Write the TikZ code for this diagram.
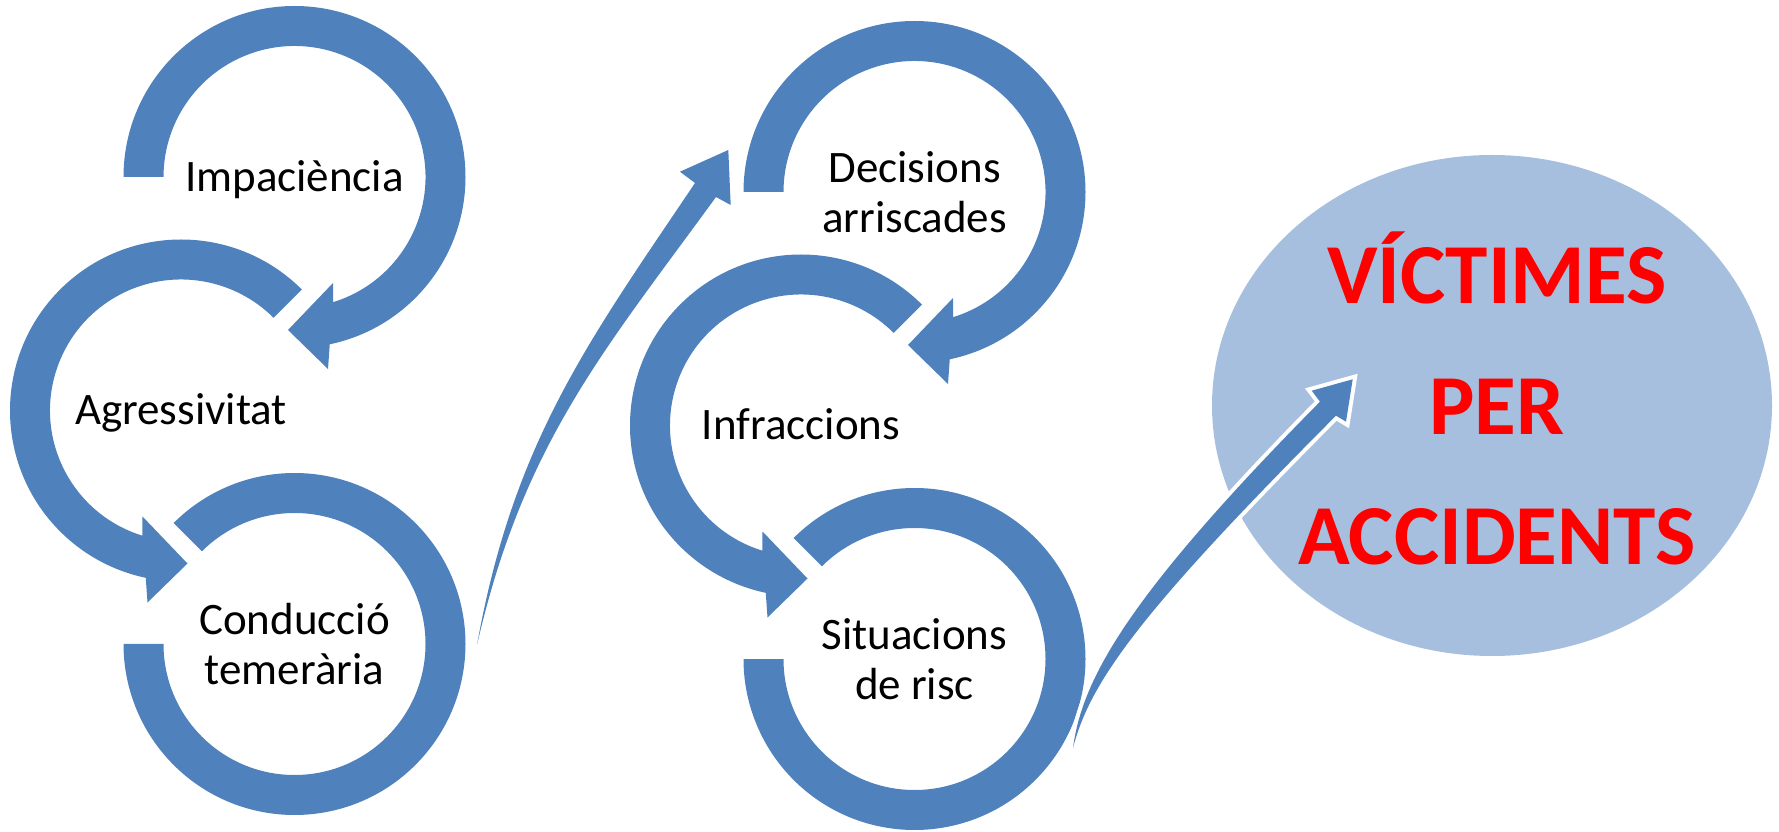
\documentclass[tikz,border=0pt]{standalone}
\usepackage{fontspec}
\setmainfont{Carlito}
\definecolor{arrowblue}{RGB}{79,129,189}
\definecolor{ellblue}{RGB}{167,191,222}
\definecolor{vred}{RGB}{255,0,0}
\newcommand\drawtrio[2]{%
  \begin{scope}[shift={(#1,#2)}]
    \begin{scope}[shift={(294.5,654)}]
      \fill[band] (180:171) arc[start angle=180,end angle=-78.1,radius=171]
        -- (33.5,-192) -- (-6.5,-153) -- (38.5,-106)
        -- (-72.8:131) arc[start angle=-72.8,end angle=180,radius=131] -- cycle;
    \end{scope}
    \begin{scope}[shift={(181,420.5)}]
      \fill[band] (45:171) arc[start angle=45,end angle=258.1,radius=171]
        -- (-33.5,-192) -- (6.5,-153) -- (-38.5,-106)
        -- (252.8:131) arc[start angle=252.8,end angle=45,radius=131] -- cycle;
    \end{scope}
    \begin{scope}[shift={(294.5,187)}]
      \fill[band] (135:171) arc[start angle=135,end angle=-180,radius=171]
        -- (-180:131) arc[start angle=-180,end angle=135,radius=131] -- cycle;
    \end{scope}
  \end{scope}}
\begin{document}
\begin{tikzpicture}[x=0.5pt,y=0.5pt,
  band/.style={fill=arrowblue},
  lbl/.style={anchor=base,inner sep=0pt,font=\fontsize{22.5}{25.25}\selectfont},
  big/.style={anchor=base,inner sep=0pt,text=vred,font=\bfseries\fontsize{42.7}{65.25}\selectfont},
  pointer/.style={fill=arrowblue,preaction={draw=white,line width=4pt,line join=miter}}]
\useasboundingbox (0,0) rectangle (1779,831);

\drawtrio{0}{0}
\drawtrio{620}{-15}

% curved arrow 1
\path[pointer] (477,186) .. controls (513.5,389.9) and (589.4,490.8) .. (695,648)
  -- (680,659.3) -- (728.3,681) -- (730.7,626) -- (716,634)
  .. controls (604.2,480.4) and (523.3,387.9) .. (477,186) -- cycle;

% result ellipse
\fill[ellblue] (1492,425.5) ellipse[x radius=280,y radius=250.5];

% curved arrow 2
\path[pointer] (1073,83) .. controls (1082.1,151) and (1125.9,233.1) .. (1320,429.3)
  -- (1311.7,440.3) -- (1352.7,451.7) -- (1346,409.3) -- (1336,415.3)
  .. controls (1140.1,218.9) and (1089.9,149) .. (1073,83) -- cycle;

% labels
\node[lbl] (imp) at (294.5,639.5) {Impaciència};
\node[lbl] (agr) at (181,406) {Agressivitat};
\node[lbl] (con) at (294.5,196.5) {\begin{tabular}[t]{@{}c@{}}Conducció\\temerària\end{tabular}};
\node[lbl] (dec) at (914.5,648.5) {\begin{tabular}[t]{@{}c@{}}Decisions\\arriscades\end{tabular}};
\node[lbl] (inf) at (801,391) {Infraccions};
\node[lbl] (sit) at (914.5,181.5) {\begin{tabular}[t]{@{}c@{}}Situacions\\de risc\end{tabular}};
\node[big] (vic) at (1497,527) {\begin{tabular}[t]{@{}c@{}}VÍCTIMES\\PER\\ACCIDENTS\end{tabular}};
\end{tikzpicture}
\end{document}
